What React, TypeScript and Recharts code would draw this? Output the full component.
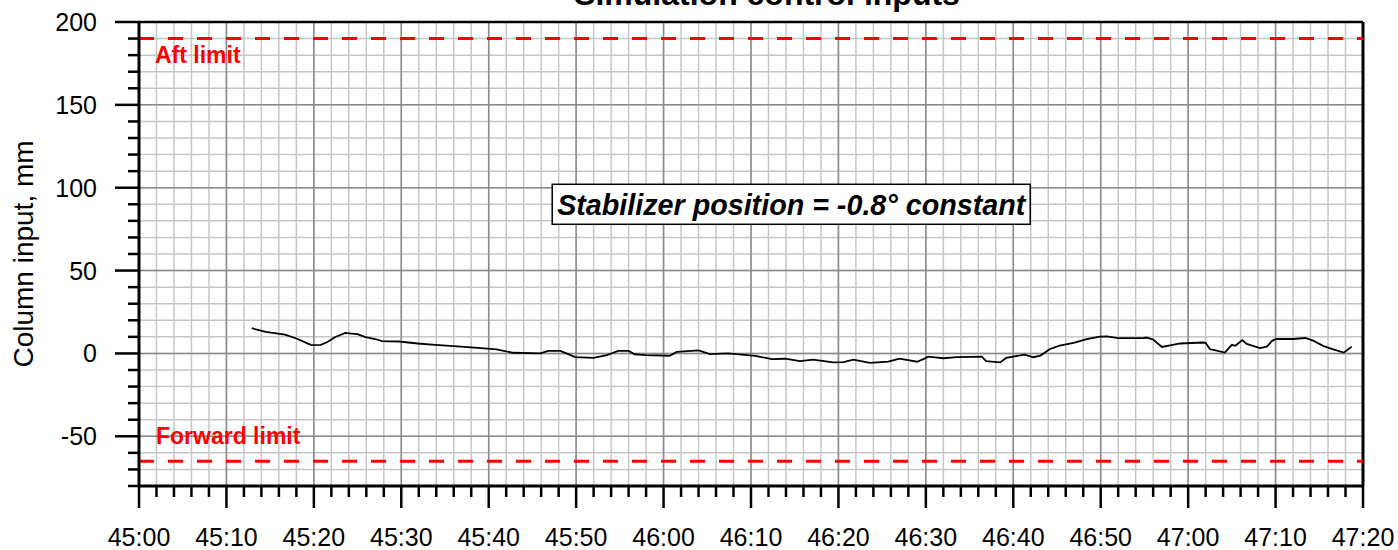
import React from 'react';
import { LineChart, Line, XAxis, YAxis, CartesianGrid, ReferenceLine, ReferenceDot } from 'recharts';

// seconds after 45:00
const timeSec = [
  12.9, 14.5, 16.7, 18.0, 19.7, 20.8, 21.6, 22.4, 23.6, 24.3, 25.0, 25.8, 27.0, 27.8, 29.7, 31.9, 33.9, 36.0, 38.0,
  40.9, 42.0, 42.8, 45.9, 46.8, 48.2, 49.9, 52.0, 53.5, 54.8, 56.0, 56.7, 58.0, 60.7, 61.5, 64.0, 65.3, 67.4, 70.5,
  72.4, 73.9, 75.6, 77.1, 79.4, 80.6, 81.7, 83.6, 85.7, 87.0, 89.0, 89.9, 90.3, 92.0, 93.5, 96.4, 96.9, 98.5, 99.2,
  101.3, 102.3, 103.1, 104.2, 105.3, 106.9, 108.4, 109.9, 110.7, 112.0, 114.9, 115.2, 116.0, 117.0, 119.1, 121.7,
  122.0, 122.5, 122.9, 124.2, 125.0, 125.4, 126.2, 126.7, 128.2, 129.0, 129.6, 130.1, 132.0, 133.4, 134.3, 135.5,
  136.6, 137.8, 138.7,
];
const columnInput = [
  15.2, 13.0, 11.3, 9.0, 5.0, 5.2, 7.0, 9.8, 12.4, 12.0, 11.6, 10.0, 8.7, 7.4, 7.2, 6.0, 5.2, 4.4, 3.6,
  2.4, 1.2, 0.4, 0.0, 1.5, 1.5, -2.2, -2.7, -1.1, 1.5, 1.5, -0.5, -1.0, -1.4, 0.9, 1.8, -0.4, 0.0, -1.5,
  -3.4, -3.2, -4.6, -3.8, -5.4, -5.3, -3.8, -5.7, -5.0, -3.1, -5.0, -3.0, -1.9, -2.9, -2.2, -1.9, -4.6, -5.4, -2.7,
  -0.7, -2.3, -1.3, 2.7, 4.7, 6.3, 8.6, 10.2, 10.3, 9.2, 9.2, 9.6, 8.4, 3.9, 6.0, 6.6,
  6.4, 2.5, 2.1, 0.5, 5.2, 4.6, 8.0, 5.7, 3.2, 4.1, 7.6, 8.7, 8.7, 9.3, 7.7, 4.4,
  2.4, 0.5, 4.0,
];

const xMajorTicks = [0, 10, 20, 30, 40, 50, 60, 70, 80, 90, 100, 110, 120, 130, 140];
const xTickLabels = ['45:00', '45:10', '45:20', '45:30', '45:40', '45:50', '46:00', '46:10', '46:20', '46:30', '46:40', '46:50', '47:00', '47:10', '47:20'];
const yMajorTicks = [-50, 0, 50, 100, 150, 200];
const yTickLabels = ['-50', '0', '50', '100', '150', '200'];

const xMinorTicks: number[] = [];
for (let t = 0; t <= 140; t += 2) xMinorTicks.push(t);
const yMinorTicks: number[] = [];
for (let v = -80; v <= 200; v += 10) yMinorTicks.push(v);

const aftLimit = 190;
const forwardLimit = -65;
const annotation = { x: 74.6, y: 90, text: 'Stabilizer position = -0.8° constant' };

const data = timeSec.map((t, i) => ({ t, v: columnInput[i] }));

const FONT = '"Liberation Sans", Arial, Helvetica, sans-serif';

const XTick = (props: any) => {
  const { x, y, payload } = props;
  const idx = xMajorTicks.indexOf(payload.value);
  const major = idx >= 0;
  return (
    <g>
      <line x1={x} x2={x} y1={y} y2={y + (major ? 22 : 11)} stroke="#000" strokeWidth={2.5} />
      {major && (
        <text x={x} y={y + 60} textAnchor="middle" fontSize={25} fontFamily={FONT} fill="#000">
          {xTickLabels[idx]}
        </text>
      )}
    </g>
  );
};

const YTick = (props: any) => {
  const { x, y, payload } = props;
  const idx = yMajorTicks.indexOf(payload.value);
  const major = idx >= 0;
  return (
    <g>
      <line x1={x - (major ? 24 : 11)} x2={x} y1={y} y2={y} stroke="#000" strokeWidth={2.5} />
      {major && (
        <text x={x - 42} y={y + 9} textAnchor="end" fontSize={25} fontFamily={FONT} fill="#000">
          {yTickLabels[idx]}
        </text>
      )}
    </g>
  );
};

export default function App() {
  return (
    <div style={{ position: 'absolute', left: 0, top: 0, width: 1398, height: 550, background: '#fff' }}>
      <LineChart
        width={1398}
        height={550}
        data={data}
        margin={{ top: 22, right: 35, bottom: 0, left: 0 }}
      >
        <CartesianGrid stroke="#c6c6c6" strokeWidth={1.5} />
        <XAxis
          dataKey="t"
          type="number"
          domain={[0, 140]}
          ticks={xMinorTicks}
          interval={0}
          height={64}
          tickSize={0}
          tickMargin={0}
          tickLine={false}
          tick={XTick}
          axisLine={{ stroke: '#000', strokeWidth: 3 }}
          allowDataOverflow
        />
        <YAxis
          type="number"
          domain={[-80, 200]}
          ticks={yMinorTicks}
          interval={0}
          width={139}
          tickSize={0}
          tickMargin={0}
          tickLine={false}
          tick={YTick}
          axisLine={{ stroke: '#000', strokeWidth: 3 }}
          allowDataOverflow
          label={{
            content: (p: any) => {
              const vb = p.viewBox || { x: 0, y: 22, width: 139, height: 464 };
              const cx = 33;
              const cy = vb.y + vb.height / 2;
              return (
                <text
                  x={cx}
                  y={cy}
                  textAnchor="middle"
                  fontSize={28}
                  fontFamily={FONT}
                  fill="#000"
                  transform={`rotate(-90, ${cx}, ${cy})`}
                >
                  Column input, mm
                </text>
              );
            },
          }}
        />
        {xMajorTicks.slice(1, -1).map((t) => (
          <ReferenceLine key={'vx' + t} x={t} stroke="#8a8a8a" strokeWidth={1.5} />
        ))}
        {yMajorTicks.slice(0, -1).map((v) => (
          <ReferenceLine key={'hy' + v} y={v} stroke="#8a8a8a" strokeWidth={1.5} />
        ))}
        <ReferenceLine x={140} stroke="#000" strokeWidth={3} />
        <ReferenceLine y={200} stroke="#000" strokeWidth={2.5} />
        <ReferenceLine
          y={aftLimit}
          stroke="#ff0000"
          strokeWidth={3}
          strokeDasharray="15 14"
          label={(p: any) => (
            <text x={p.viewBox.x + 16} y={p.viewBox.y + 24.5} fontSize={23} fontWeight="bold" fontFamily={FONT} fill="#ff0000">
              Aft limit
            </text>
          )}
        />
        <ReferenceLine
          y={forwardLimit}
          stroke="#ff0000"
          strokeWidth={3}
          strokeDasharray="15 14"
          label={(p: any) => (
            <text x={p.viewBox.x + 17} y={p.viewBox.y - 17} fontSize={23} fontWeight="bold" fontFamily={FONT} fill="#ff0000">
              Forward limit
            </text>
          )}
        />
        <ReferenceDot
          x={annotation.x}
          y={annotation.y}
          r={1}
          shape={(p: any) => (
            <g>
              <rect x={p.cx - 239} y={p.cy - 20} width={478} height={40} fill="#fff" stroke="#000" strokeWidth={1.5} />
              <text
                x={p.cx}
                y={p.cy + 10.5}
                textAnchor="middle"
                fontSize={28.7}
                fontWeight="bold"
                fontStyle="italic"
                fontFamily={FONT}
                fill="#000"
              >
                {annotation.text}
              </text>
            </g>
          )}
        />
        <Line
          dataKey="v"
          type="linear"
          stroke="#000"
          strokeWidth={1.8}
          dot={false}
          isAnimationActive={false}
        />
      </LineChart>
      <svg width={1398} height={550} style={{ position: 'absolute', left: 0, top: 0, pointerEvents: 'none' }}>
        <text x={767} y={5} textAnchor="middle" fontSize={32} fontWeight="bold" fontFamily={FONT} fill="#000">
          Simulation control inputs
        </text>
      </svg>
    </div>
  );
}
